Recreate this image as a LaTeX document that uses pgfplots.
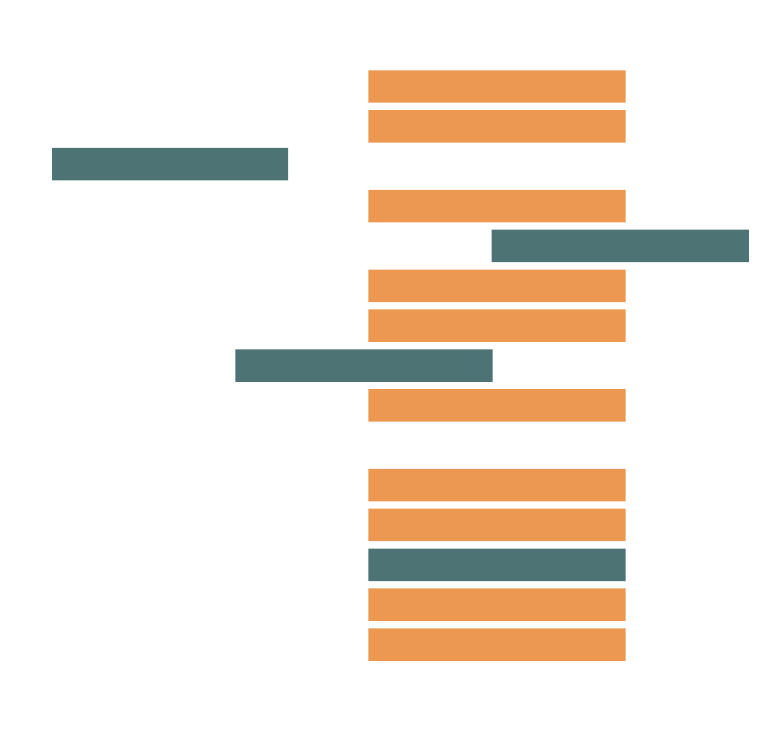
\documentclass[border=0pt]{standalone}
\usepackage{pgfplots}
\usepackage{pgfplotstable}
\pgfplotsset{compat=1.18}
\definecolor{barorange}{HTML}{ED9850}
\definecolor{barteal}{HTML}{4E7374}
\pgfplotstableread{
row offset orange teal
1  368.3 257.2 0
2  368.3 257.2 0
2.95 52.0  0     236.0
4  368.3 257.2 0
5  491.7 0     257.2
6  368.3 257.2 0
7  368.3 257.2 0
8  235.3 0     257.4
9  368.3 257.2 0
10 0     0     0
11 368.3 257.2 0
12 368.3 257.2 0
13 368.3 0     257.2
14 368.3 257.2 0
15 368.3 257.2 0
}\gantt
\begin{document}
\begin{tikzpicture}
\begin{axis}[
  width=389pt, height=364.5pt, scale only axis,
  hide axis, clip=false,
  xmin=0, xmax=778,
  ymin=-1.170, ymax=17.119,
  y dir=reverse,
  xbar stacked,
  bar width=0.815,
]
\addplot[draw=none, fill=none] table[x=offset, y=row] {\gantt};
\addplot[draw=none, fill=barorange] table[x=orange, y=row] {\gantt};
\addplot[draw=none, fill=barteal] table[x=teal, y=row] {\gantt};
\path (axis cs:0,-1.170) rectangle (axis cs:778,17.119);
\end{axis}
\end{tikzpicture}
\end{document}
